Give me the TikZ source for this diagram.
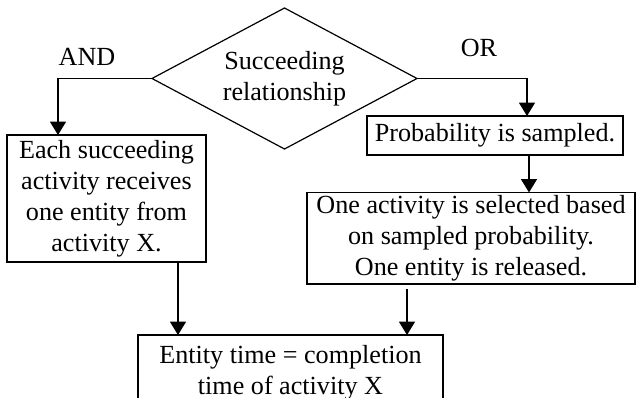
\documentclass[tikz,border=0pt]{standalone}
\usepackage{fontspec}
\setmainfont{Liberation Serif}
\usetikzlibrary{shapes.geometric,arrows.meta,calc}
\begin{document}
\begin{tikzpicture}[x=0.75pt,y=-0.75pt,
  font=\fontsize{19.6pt}{23.3pt}\selectfont,
  every node/.style={inner sep=0pt, outer sep=0pt},
  flowbox/.style={draw, line width=0.9pt, align=center},
  decision/.style={draw, line width=0.9pt, shape=diamond, aspect=1.88,
    minimum width=198.75pt, minimum height=105.75pt, align=center},
  flow/.style={draw, line width=0.9pt, -{Triangle[width=12pt,length=10pt]}},
  tag/.style={}]
  \useasboundingbox (0,0) rectangle (636,398);

  % decision
  \node[decision] (dia) at (284.5,78.5) {Succeeding\\relationship};

  % branch labels
  \node[tag] (and) at (87,57) {AND};
  \node[tag] (or) at (479,48) {OR};

  % boxes
  \node[flowbox, minimum width=149.25pt, minimum height=95.25pt] (lbox) at (106.5,198.5)
    {Each succeeding\\activity receives\\one entity from\\activity X.};
  \node[flowbox, minimum width=192pt, minimum height=29.25pt] (pbox) at (495,135.5)
    {Probability is sampled.};
  \node[flowbox, minimum width=246pt, minimum height=68.6pt] (sbox) at (471,238.2)
    {One activity is selected based\\on sampled probability.\\One entity is released.};
  \node[flowbox, minimum width=228.75pt, minimum height=57pt] (bbox) at (290.5,373)
    {Entity time = completion\\time of activity X};

  % connector x positions
  \coordinate (xand) at (58,0);
  \coordinate (xor) at (527,0);
  \coordinate (xp) at (529,0);
  \coordinate (xs) at (407,0);
  \coordinate (xl) at (178,0);

  % connectors
  \draw[flow] (dia.west) -| (lbox.north -| xand);
  \draw[flow] (dia.east) -| (pbox.north -| xor);
  \draw[flow] (pbox.south -| xp) -- (sbox.north -| xp);
  \draw[flow] ([yshift=-3.75pt]sbox.south -| xs) -- (bbox.north -| xs);
  \draw[flow] (lbox.south -| xl) -- (bbox.north -| xl);
\end{tikzpicture}
\end{document}
